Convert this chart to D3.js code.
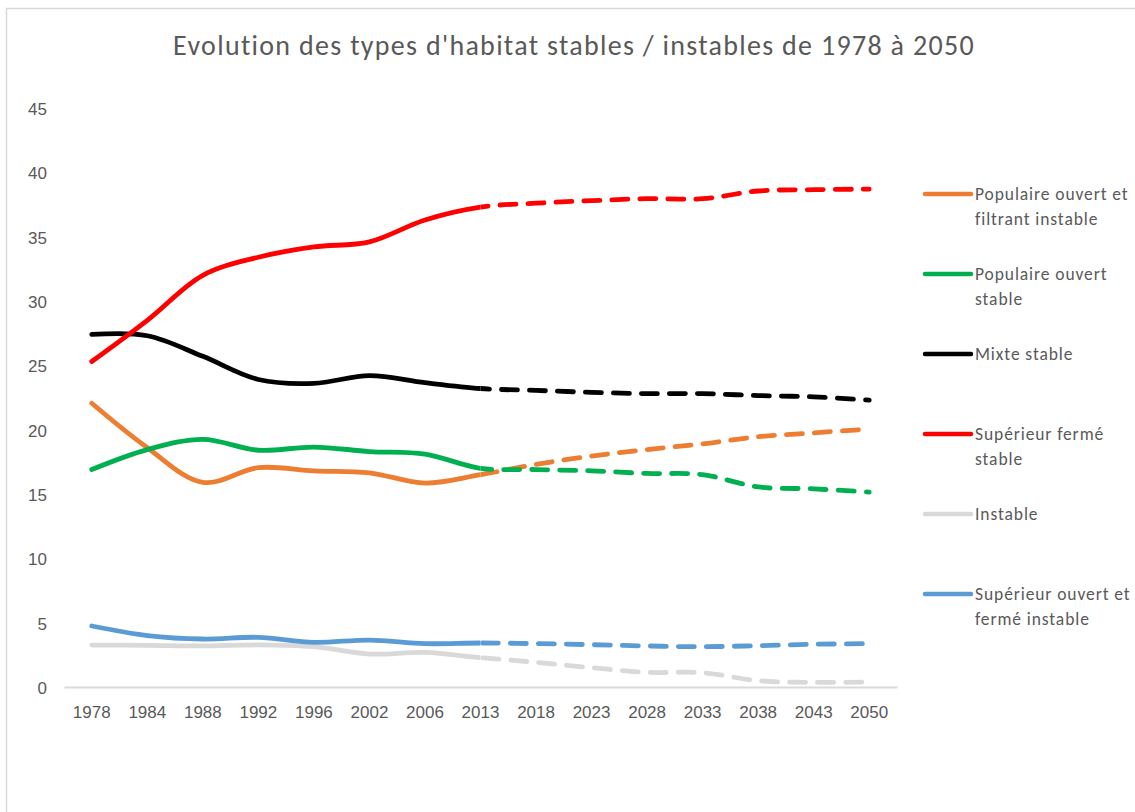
<!DOCTYPE html>
<html>
<head>
<meta charset="utf-8">
<script src="https://cdn.jsdelivr.net/npm/d3@7"></script>
<style>
  body { margin: 0; background: #fff; }
  svg { display: block; font-family: Calibri, Carlito, Lato, sans-serif; }
</style>
</head>
<body>
<svg id="chart" width="1135" height="812"></svg>
<script>
// categories (years)
const years = ["1978", "1984", "1988", "1992", "1996", "2002", "2006", "2013",
               "2018", "2023", "2028", "2033", "2038", "2043", "2050"];
const yTicks = [0, 5, 10, 15, 20, 25, 30, 35, 40, 45];
// first projected year: from here the lines are dashed
const projectionStart = "2013";

// series values
const populaireFiltrant = [22.05, 18.6, 15.9, 17.05, 16.8, 16.65, 15.85, 16.5, 17.3, 17.95, 18.45, 18.9, 19.45, 19.75, 20.05];
const populaireStable   = [16.9, 18.45, 19.25, 18.4, 18.65, 18.3, 18.1, 17.0, 16.9, 16.8, 16.6, 16.5, 15.55, 15.4, 15.15];
const mixteStable       = [27.4, 27.3, 25.7, 23.9, 23.6, 24.2, 23.65, 23.2, 23.05, 22.9, 22.8, 22.8, 22.65, 22.55, 22.3];
const superieurFerme    = [25.3, 28.5, 32.0, 33.4, 34.2, 34.6, 36.3, 37.3, 37.6, 37.8, 37.95, 37.95, 38.55, 38.65, 38.7];
const instable          = [3.26, 3.24, 3.19, 3.28, 3.13, 2.56, 2.69, 2.28, 1.92, 1.5, 1.14, 1.11, 0.49, 0.36, 0.39];
const superieurOuvert   = [4.74, 4.0, 3.73, 3.86, 3.47, 3.65, 3.37, 3.42, 3.37, 3.29, 3.19, 3.13, 3.21, 3.32, 3.37];

const seriesNames = [
  ["Populaire ouvert et", "filtrant instable"],
  ["Populaire ouvert", "stable"],
  ["Mixte stable"],
  ["Supérieur fermé", "stable"],
  ["Instable"],
  ["Supérieur ouvert et", "fermé instable"]
];
const seriesValues = [populaireFiltrant, populaireStable, mixteStable, superieurFerme, instable, superieurOuvert];
const seriesColors = ["#ED7D31", "#00B050", "#000000", "#FF0000", "#D9D9D9", "#5B9BD5"];

const title = "Evolution des types d'habitat stables / instables de 1978 à 2050";

const svg = d3.select("#chart");
const textColor = "#595959";

// outer chart border
svg.append("rect")
  .attr("x", 6.5).attr("y", 8.5)
  .attr("width", 1200).attr("height", 900)
  .attr("fill", "none")
  .attr("stroke", "#D9D9D9")
  .attr("stroke-width", 1.5);

svg.append("text")
  .attr("x", 574).attr("y", 55)
  .attr("text-anchor", "middle")
  .attr("fill", textColor)
  .style("font-size", "28px")
  .style("letter-spacing", "1.3px")
  .text(title);

const x = d3.scaleBand().domain(years).range([64, 897]);
const y = d3.scaleLinear().domain([0, 45]).range([687, 108]);
const cx = d => x(d) + x.bandwidth() / 2;

// y axis: labels only
const yAxis = svg.append("g")
  .attr("transform", "translate(52,0)")
  .call(d3.axisLeft(y).tickValues(yTicks).tickSize(0).tickPadding(5));
yAxis.select(".domain").remove();
yAxis.selectAll("text").attr("fill", textColor).style("font-size", "17px").attr("dy", "0.38em");

// x axis
const xAxis = svg.append("g")
  .attr("transform", "translate(0,687)")
  .call(d3.axisBottom(x).tickSize(0).tickPadding(19));
xAxis.select(".domain").attr("stroke", "#D9D9D9").attr("stroke-width", 2);
xAxis.selectAll("text").attr("fill", textColor).style("font-size", "17px");

// clip regions: measured part solid, projection dashed
const splitX = cx(projectionStart);
const defs = svg.append("defs");
defs.append("clipPath").attr("id", "clip-solid")
  .append("rect").attr("x", 0).attr("y", 0).attr("width", splitX).attr("height", 812);
defs.append("clipPath").attr("id", "clip-dash")
  .append("rect").attr("x", splitX).attr("y", 0).attr("width", 1135 - splitX).attr("height", 812);

const line = d3.line()
  .x((d, i) => cx(years[i]))
  .y(d => y(d))
  .curve(d3.curveCatmullRom.alpha(0.5));

const drawOrder = [4, 5, 0, 1, 2, 3];
const lines = svg.append("g");
drawOrder.forEach(k => {
  const g = lines.append("g");
  const d = line(seriesValues[k]);
  g.append("path")
    .attr("d", d)
    .attr("clip-path", "url(#clip-solid)")
    .attr("fill", "none")
    .attr("stroke", seriesColors[k])
    .attr("stroke-width", 4.8)
    .attr("stroke-linecap", "round")
    .attr("stroke-linejoin", "round");
  g.append("path")
    .attr("d", d)
    .attr("clip-path", "url(#clip-dash)")
    .attr("fill", "none")
    .attr("stroke", seriesColors[k])
    .attr("stroke-width", 4.8)
    .attr("stroke-linecap", "round")
    .attr("stroke-dasharray", "16 12");
});

// legend
const legend = svg.append("g").attr("transform", "translate(925,194)");
seriesNames.forEach((names, i) => {
  const item = legend.append("g").attr("transform", `translate(0,${i * 80})`);
  item.append("line")
    .attr("x1", 0).attr("x2", 46).attr("y1", 0).attr("y2", 0)
    .attr("stroke", seriesColors[i])
    .attr("stroke-width", 4.5)
    .attr("stroke-linecap", "round");
  const t = item.append("text")
    .attr("x", 50).attr("y", 0)
    .attr("fill", textColor)
    .style("font-size", "17.5px")
    .style("letter-spacing", "0.9px");
  names.forEach((s, j) => {
    t.append("tspan").attr("x", 50).attr("dy", j === 0 ? "0.35em" : 25).text(s);
  });
});
</script>
</body>
</html>
